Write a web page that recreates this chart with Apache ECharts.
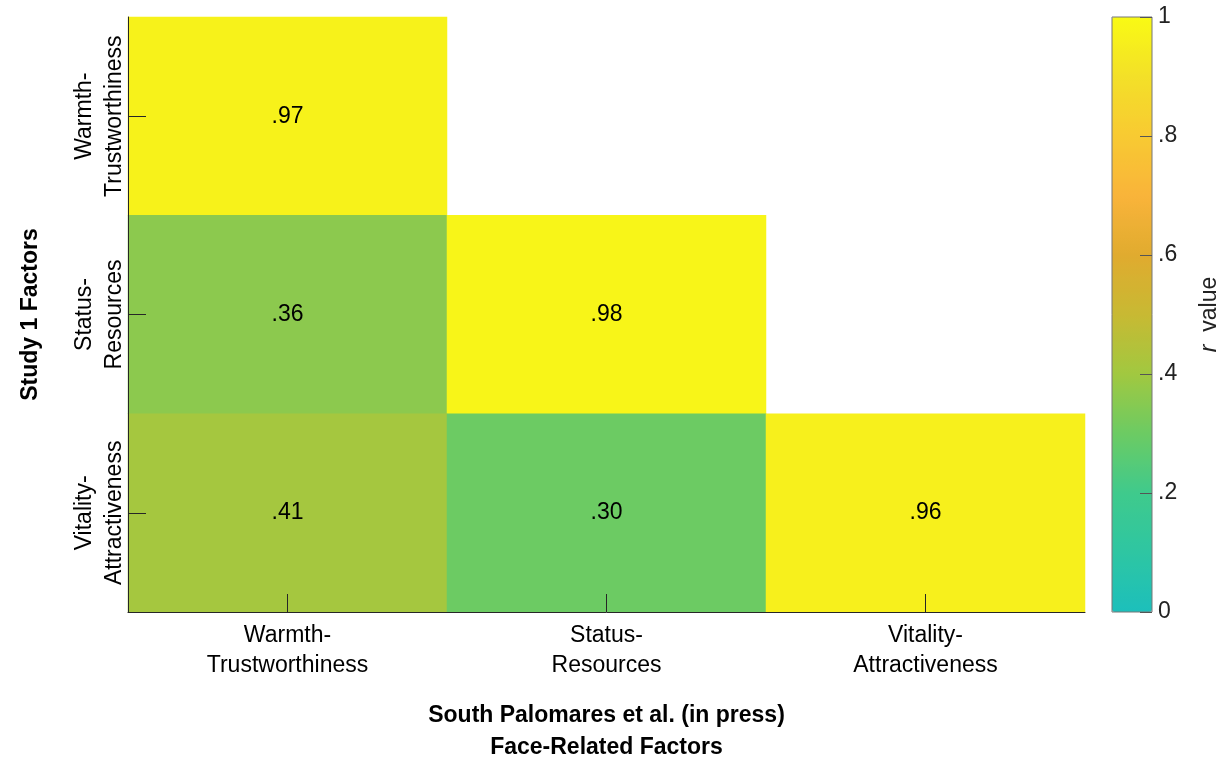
<!DOCTYPE html>
<html lang="en">
<head>
  <meta charset="UTF-8">
  <title>r value heatmap</title>
  <script src="https://cdn.jsdelivr.net/npm/echarts@6/dist/echarts.min.js"></script>
  <style>
    html, body { margin: 0; padding: 0; background: #fff; }
    #main { width: 1217px; height: 760px; }
  </style>
</head>
<body>
  <div id="main"></div>
  <script>
    // x: South Palomares et al. factors, y: Study 1 factors (bottom to top)
    var xCats = ['Warmth-\nTrustworthiness', 'Status-\nResources', 'Vitality-\nAttractiveness'];
    var yCats = ['Vitality-\nAttractiveness', 'Status-\nResources', 'Warmth-\nTrustworthiness'];
    // [xIndex, yIndex, r]
    var cells = [
      [0, 2, 0.97],
      [0, 1, 0.36], [1, 1, 0.98],
      [0, 0, 0.41], [1, 0, 0.30], [2, 0, 0.96]
    ];
    // colour bar stops 0, .1, ... 1
    var barColors = ['#1cbfbb', '#2ec6a2', '#3fca8c', '#6ccb63', '#a1c840', '#c8b933',
                     '#e0ab2f', '#f9b43a', '#f8ca32', '#f3e028', '#f9fa14'];
    var barTicks = ['0', '.2', '.4', '.6', '.8', '1'];

    var fontFam = '"Liberation Sans", Arial, Helvetica, sans-serif';
    var myChart = echarts.init(document.getElementById('main'));

    var option = {
      animation: false,
      textStyle: { fontFamily: fontFam },
      grid: [
        { left: 128, top: 17, width: 957, height: 595, containLabel: false, outerBoundsMode: 'none' },
        { left: 1112, top: 17, width: 40, height: 595, outerBoundsMode: 'none', z: 10,
          show: true, borderColor: '#777', borderWidth: 1, backgroundColor: 'transparent' }
      ],
      xAxis: [{
        type: 'category',
        gridIndex: 0,
        z: 10,
        data: xCats,
        axisLine: { show: true, lineStyle: { color: '#262626', width: 1 } },
        axisTick: { show: true, inside: true, length: 18, interval: 0, alignWithLabel: true, lineStyle: { color: '#262626' } },
        axisLabel: { color: '#000', fontSize: 23, lineHeight: 30, margin: 9, interval: 0, hideOverlap: false, fontFamily: fontFam },
        splitLine: { show: false },
        name: 'South Palomares et al. (in press)\nFace-Related Factors',
        nameLocation: 'middle',
        nameGap: 88,
        nameTextStyle: { color: '#000', fontSize: 23, fontWeight: 'bold', lineHeight: 32, fontFamily: fontFam }
      }, {
        type: 'value', gridIndex: 1, min: 0, max: 1, show: false
      }],
      yAxis: [{
        type: 'category',
        gridIndex: 0,
        z: 10,
        data: yCats,
        axisLine: { show: true, lineStyle: { color: '#262626', width: 1 } },
        axisTick: { show: true, inside: true, length: 18, interval: 0, alignWithLabel: true, lineStyle: { color: '#262626' } },
        axisLabel: { color: '#000', fontSize: 23, lineHeight: 30, rotate: 90, margin: -2, interval: 0, hideOverlap: false, fontFamily: fontFam },
        splitLine: { show: false },
        name: 'Study 1 Factors',
        nameLocation: 'middle',
        nameRotate: 90,
        nameGap: 86,
        nameTextStyle: { color: '#000', fontSize: 23, fontWeight: 'bold', fontFamily: fontFam }
      }, {
        type: 'value',
        gridIndex: 1,
        z: 10,
        position: 'right',
        min: 0, max: 1, interval: 0.2,
        axisLine: { show: false, onZero: false },
        axisTick: { show: true, inside: true, length: 12, lineStyle: { color: '#555' } },
        axisLabel: {
          color: '#222', fontSize: 23, margin: 6, fontFamily: fontFam,
          formatter: function (v) { return barTicks[Math.round(v * 5)]; }
        },
        splitLine: { show: false },
        name: '{i|r}  value',
        nameLocation: 'middle',
        nameRotate: 90,
        nameGap: 46,
        nameTextStyle: {
          color: '#222', fontSize: 23, fontFamily: fontFam,
          rich: { i: { fontStyle: 'italic', fontSize: 23, color: '#222', fontFamily: fontFam } }
        }
      }],
      visualMap: {
        type: 'continuous',
        seriesIndex: 0,
        min: 0, max: 1,
        calculable: false,
        show: true,
        left: 1112, top: 17,
        padding: 0,
        itemWidth: 40,
        itemHeight: 595,
        text: null,
        showLabel: false,
        inRange: { color: barColors }
      },
      series: [{
        type: 'heatmap',
        xAxisIndex: 0, yAxisIndex: 0,
        data: cells,
        label: {
          show: true,
          color: '#000',
          fontSize: 23,
          fontFamily: fontFam,
          formatter: function (p) { return p.value[2].toFixed(2).replace(/^0/, ''); }
        },
        itemStyle: { borderWidth: 0 }
      }, {
        type: 'scatter', xAxisIndex: 1, yAxisIndex: 1, data: []
      }]
    };
    myChart.setOption(option);
  </script>
</body>
</html>
